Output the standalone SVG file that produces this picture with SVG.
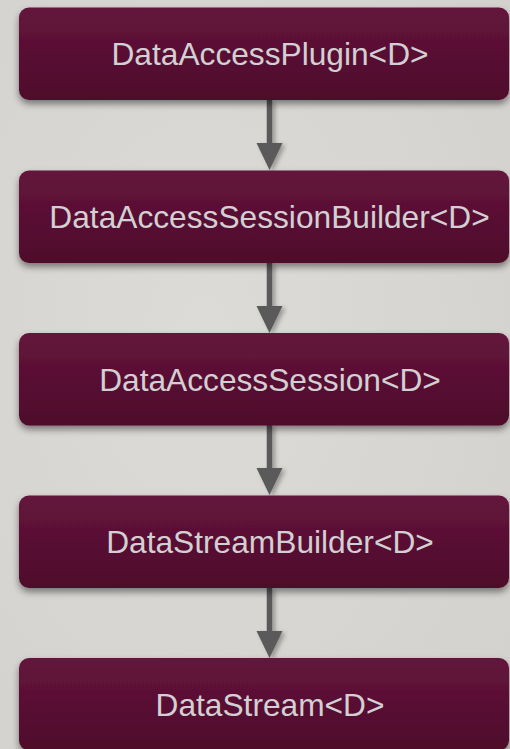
<svg xmlns="http://www.w3.org/2000/svg" width="510" height="749" viewBox="0 0 510 749">
  <defs>
    <linearGradient id="boxFill" x1="0" y1="0" x2="0" y2="1">
      <stop offset="0" stop-color="#64143b"/>
      <stop offset="1" stop-color="#4e0c2b"/>
    </linearGradient>
    <radialGradient id="bg" cx="0.4" cy="0.45" r="0.8">
      <stop offset="0" stop-color="#dddbd8"/>
      <stop offset="1" stop-color="#d3d1cd"/>
    </radialGradient>
    <filter id="shadow" x="-10%" y="-20%" width="120%" height="150%">
      <feDropShadow dx="0" dy="4" stdDeviation="3.5" flood-color="#000" flood-opacity="0.45"/>
    </filter>
    <filter id="arrowShadow" x="-50%" y="-10%" width="200%" height="130%">
      <feDropShadow dx="3" dy="2" stdDeviation="2" flood-color="#000" flood-opacity="0.3"/>
    </filter>
  </defs>
  <style>
    .box { fill: url(#boxFill); filter: url(#shadow); }
    .label { font-family: "Liberation Sans", Arial, sans-serif; font-size: 31.7px; fill: #d2d0d2; text-anchor: middle; }
    .stem { stroke: #5a5a5a; stroke-width: 5.5; fill: none; }
    .head { fill: #5a5a5a; }
  </style>

  <rect width="510" height="749" fill="url(#bg)"/>

  <!-- connectors: straight stems with triangular heads -->
  <g id="connectors" filter="url(#arrowShadow)">
    <line class="stem" x1="269.5" y1="100" x2="269.5" y2="145"/>
    <path class="head" d="M256.5,143 L282.5,143 L269.5,170 Z"/>
    <line class="stem" x1="269.5" y1="263" x2="269.5" y2="308"/>
    <path class="head" d="M256.5,306 L282.5,306 L269.5,333 Z"/>
    <line class="stem" x1="269.5" y1="425" x2="269.5" y2="470"/>
    <path class="head" d="M256.5,468 L282.5,468 L269.5,495 Z"/>
    <line class="stem" x1="269.5" y1="588" x2="269.5" y2="633"/>
    <path class="head" d="M256.5,631 L282.5,631 L269.5,658 Z"/>
  </g>

  <g id="plugin">
    <rect class="box" x="19" y="7.5" width="490" height="92.5" rx="10"/>
    <text class="label" x="270" y="65">DataAccessPlugin&lt;D&gt;</text>
  </g>

  <g id="session-builder">
    <rect class="box" x="19" y="170.5" width="490" height="92.5" rx="10"/>
    <text class="label" x="269.5" y="228">DataAccessSessionBuilder&lt;D&gt;</text>
  </g>

  <g id="session">
    <rect class="box" x="19" y="333" width="490" height="92.5" rx="10"/>
    <text class="label" x="270" y="390.5">DataAccessSession&lt;D&gt;</text>
  </g>

  <g id="stream-builder">
    <rect class="box" x="19" y="495.5" width="490" height="92.5" rx="10"/>
    <text class="label" x="270" y="553">DataStreamBuilder&lt;D&gt;</text>
  </g>

  <g id="stream">
    <rect class="box" x="19" y="658" width="490" height="92.5" rx="10"/>
    <text class="label" x="270" y="715.5">DataStream&lt;D&gt;</text>
  </g>
</svg>
